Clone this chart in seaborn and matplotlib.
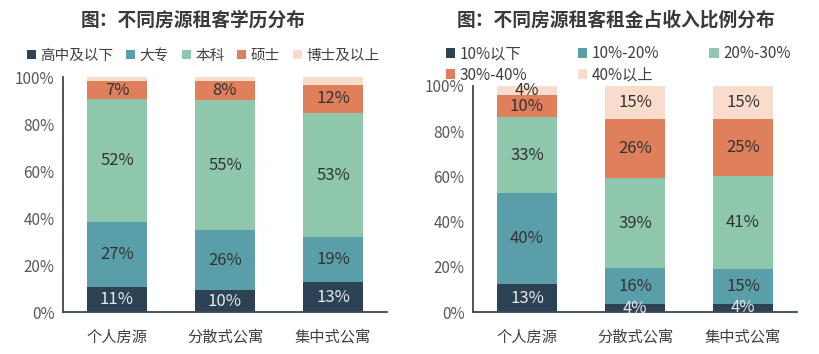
import numpy as np
import pandas as pd
import matplotlib
matplotlib.use("Agg")
import matplotlib.pyplot as plt
import seaborn as sns
from matplotlib.patches import Patch

# ---------------- data ----------------
categories = ["个人房源", "分散式公寓", "集中式公寓"]

edu_names = ["高中及以下", "大专", "本科", "硕士", "博士及以上"]
edu_high_school = [10.9, 9.5, 12.9]
edu_college = [27.5, 25.5, 19.0]
edu_bachelor = [52.5, 55.2, 53.0]
edu_master = [7.4, 8.1, 12.0]
edu_phd = [1.7, 1.7, 3.1]
edu_labels = [["11%", "10%", "13%"], ["27%", "26%", "19%"], ["52%", "55%", "53%"],
              ["7%", "8%", "12%"], None]

rent_names = ["10%以下", "10%-20%", "20%-30%", "30%-40%", "40%以上"]
rent_lt10 = [12.5, 3.5, 3.8]
rent_10_20 = [40.3, 16.0, 15.2]
rent_20_30 = [33.2, 39.8, 41.3]
rent_30_40 = [10.0, 26.0, 25.0]
rent_gt40 = [4.0, 14.7, 14.7]
rent_labels = [["13%", "4%", "4%"], ["40%", "16%", "15%"], ["33%", "39%", "41%"],
               ["10%", "26%", "25%"], ["4%", "15%", "15%"]]

yticks = [0, 20, 40, 60, 80, 100]
ytick_labels = ["0%", "20%", "40%", "60%", "80%", "100%"]

colors = ["#2c4356", "#5a9ea9", "#8ec7ab", "#df7f5c", "#fadccc"]
text_colors = ["#e8e8e8", "#333333", "#333333", "#333333", "#333333"]

# ---------------- style ----------------
sns.set_theme(style="white")
plt.rcParams["font.family"] = ["Noto Sans CJK SC", "DejaVu Sans"]
axis_color = "#3d4852"
tick_color = "#595959"

fig = plt.figure(figsize=(8.19, 3.54), dpi=100)
ax1 = fig.add_axes([0.0769, 0.1178, 0.3956, 0.6638])
ax2 = fig.add_axes([0.5775, 0.1178, 0.3956, 0.640])


def stacked(ax, series, labels):
    data = np.array(series)
    cum = np.cumsum(data, axis=0)
    # draw from top-most cumulative downwards so lower layers overlay
    for i in range(len(series) - 1, -1, -1):
        df = pd.DataFrame({"cat": categories, "val": cum[i]})
        sns.barplot(data=df, x="cat", y="val", ax=ax, color=colors[i],
                    width=0.55, saturation=1, edgecolor="none", linewidth=0)
    for i in range(len(series)):
        if labels[i] is None:
            continue
        for j in range(len(categories)):
            mid = cum[i][j] - data[i][j] / 2
            ax.text(j, mid, labels[i][j], ha="center", va="center",
                    fontsize=12, color=text_colors[i])
    ax.set_xlim(-0.5, 2.5)
    ax.set_ylim(0, 100)
    ax.set_yticks(yticks)
    ax.set_yticklabels(ytick_labels)
    ax.set_xlabel("")
    ax.set_ylabel("")
    for s in ["top", "right"]:
        ax.spines[s].set_visible(False)
    for s in ["left", "bottom"]:
        ax.spines[s].set_color(axis_color)
        ax.spines[s].set_linewidth(1.3)
    ax.tick_params(axis="y", length=0, pad=6, labelsize=11, labelcolor=tick_color)
    ax.tick_params(axis="x", length=0, pad=12, labelsize=11, labelcolor="#404040")


stacked(ax1, [edu_high_school, edu_college, edu_bachelor, edu_master, edu_phd], edu_labels)
stacked(ax2, [rent_lt10, rent_10_20, rent_20_30, rent_30_40, rent_gt40], rent_labels)

fig.text(0.236, 0.943, "图：不同房源租客学历分布", ha="center", va="center",
         fontsize=13.5, fontweight="bold", color="#3a3a3a")
fig.text(0.752, 0.943, "图：不同房源租客租金占收入比例分布", ha="center", va="center",
         fontsize=13.5, fontweight="bold", color="#3a3a3a")

h1 = [Patch(facecolor=c, edgecolor="none") for c in colors]
fig.legend(h1, edu_names, loc="center", bbox_to_anchor=(0.248, 0.843), ncol=5,
           frameon=False, fontsize=10.5, handlelength=0.6, handleheight=0.6,
           handletextpad=0.3, columnspacing=0.9, labelcolor="#404040")

# row-major order for a 3-column, 2-row legend
order = [0, 3, 1, 4, 2]
fig.legend([h1[k] for k in order], [rent_names[k] for k in order],
           loc="center", bbox_to_anchor=(0.755, 0.818), ncol=3,
           frameon=False, fontsize=11, handlelength=0.6, handleheight=0.6,
           handletextpad=0.3, columnspacing=3.3, labelspacing=0.3,
           labelcolor="#404040")

fig.savefig("out.png", dpi=100)
